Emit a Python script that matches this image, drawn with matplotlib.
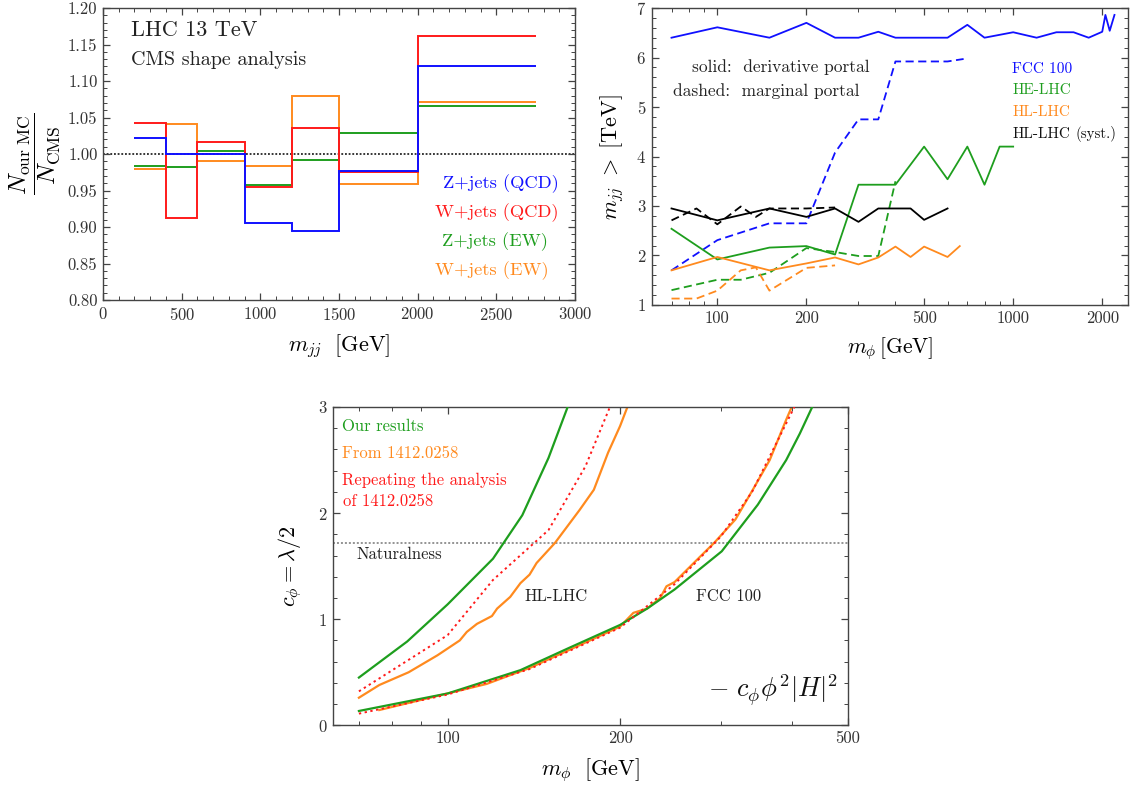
import numpy as np
import matplotlib
matplotlib.use("Agg")
import matplotlib.pyplot as plt
from matplotlib.ticker import (FixedLocator, MultipleLocator, NullFormatter,
                               FormatStrFormatter, LogLocator, FuncFormatter)

plt.rcParams["font.family"] = ["cmr10", "DejaVu Serif"]
plt.rcParams["mathtext.fontset"] = "cm"
plt.rcParams["axes.unicode_minus"] = False
plt.rcParams["axes.formatter.use_mathtext"] = True

# ---------------- top-left: our MC / CMS, per m_jj bin ----------------
mjj_edges = [200, 400, 600, 900, 1200, 1500, 2000, 2750]
ratio_z_qcd = [1.022, 1.000, 1.000, 0.906, 0.894, 0.977, 1.120]
ratio_w_qcd = [1.043, 0.912, 1.016, 0.955, 1.035, 0.976, 1.161]
ratio_z_ew = [0.983, 0.982, 1.004, 0.957, 0.992, 1.029, 1.066]
ratio_w_ew = [0.980, 1.041, 0.990, 0.983, 1.079, 0.959, 1.071]

# ---------------- top-right: optimal m_jj cut vs m_phi ----------------
fcc_sol_m = [70, 100, 150, 200, 250, 300, 350, 400, 450, 500, 600, 700, 800,
             1000, 1200, 1400, 1600, 1800, 2000, 2050, 2120, 2200]
fcc_sol = [6.40, 6.61, 6.40, 6.70, 6.40, 6.40, 6.52, 6.40, 6.40, 6.40, 6.40,
           6.66, 6.40, 6.51, 6.40, 6.51, 6.51, 6.40, 6.52, 6.86, 6.54, 6.86]
fcc_dash_m = [70, 100, 150, 200, 250, 300, 350, 400, 500, 600, 680]
fcc_dash = [1.70, 2.31, 2.65, 2.65, 4.08, 4.75, 4.75, 5.92, 5.92, 5.92, 5.97]

he_sol_m = [70, 100, 150, 200, 250, 300, 400, 500, 600, 700, 800, 900, 1000]
he_sol = [2.54, 1.92, 2.16, 2.19, 2.02, 3.43, 3.43, 4.20, 3.54, 4.20, 3.43,
          4.20, 4.20]
he_dash_m = [70, 100, 120, 150, 200, 250, 300, 350, 400]
he_dash = [1.30, 1.51, 1.51, 1.65, 2.15, 2.07, 1.99, 1.99, 3.50]

hl_sol_m = [70, 100, 150, 200, 250, 300, 350, 400, 450, 500, 600, 660]
hl_sol = [1.70, 1.97, 1.70, 1.84, 1.96, 1.82, 1.96, 2.18, 1.97, 2.18, 1.97, 2.19]
hl_dash_m = [70, 85, 100, 120, 135, 150, 200, 250]
hl_dash = [1.13, 1.13, 1.29, 1.70, 1.76, 1.29, 1.75, 1.80]

syst_sol_m = [70, 100, 150, 200, 250, 300, 350, 400, 450, 500, 600]
syst_sol = [2.95, 2.71, 2.95, 2.78, 2.95, 2.68, 2.95, 2.95, 2.95, 2.72, 2.95]
syst_dash_m = [70, 85, 100, 120, 135, 150, 200, 250]
syst_dash = [2.71, 2.95, 2.63, 2.99, 2.78, 2.95, 2.95, 2.97]

# ---------------- bottom: reach on c_phi ----------------
hl_ours_m = [70, 85, 100, 120, 135, 150, 162]
hl_ours_c = [0.45, 0.79, 1.14, 1.57, 1.98, 2.52, 3.0]
hl_ref_m = [70, 76, 85.5, 96, 105, 108, 112.5, 119.5, 122, 128.6, 134, 139,
            143, 154, 170, 180, 190.6, 200, 206]
hl_ref_c = [0.26, 0.38, 0.50, 0.66, 0.80, 0.88, 0.956, 1.03, 1.10, 1.21, 1.34,
            1.42, 1.53, 1.72, 2.03, 2.22, 2.57, 2.82, 3.0]
hl_rep_m = [70, 100, 120, 150, 174, 192]
hl_rep_c = [0.32, 0.85, 1.37, 1.84, 2.44, 3.0]

fcc_ours_m = [70, 100, 134, 163, 200, 223, 249, 301, 348, 390, 412, 433]
fcc_ours_c = [0.135, 0.30, 0.52, 0.73, 0.946, 1.10, 1.28, 1.64, 2.08, 2.50,
              2.75, 3.0]
fcc_ref_m = [76, 100, 117, 139, 163, 200, 211, 223, 235, 241, 249, 276, 292,
             318, 341, 365, 390, 398]
fcc_ref_c = [0.144, 0.30, 0.39, 0.54, 0.71, 0.93, 1.06, 1.10, 1.20, 1.31, 1.35,
             1.59, 1.72, 1.94, 2.22, 2.50, 2.88, 2.99]
fcc_rep_m = [70, 100, 139, 200, 249, 300, 340, 403]
fcc_rep_c = [0.11, 0.29, 0.53, 0.92, 1.33, 1.78, 2.20, 3.0]

naturalness = 1.72

BLUE = "#1010FF"
RED = "#FF1A1A"
GREEN = "#1E9E1E"
ORANGE = "#FF8A1E"
FRAME = "#444444"
TICKSIZE = 12


def style_frame(ax, labelsize=TICKSIZE):
    for s in ax.spines.values():
        s.set_color(FRAME)
        s.set_linewidth(1.0)
    ax.tick_params(which="both", direction="in", top=True, right=True,
                   color=FRAME, labelcolor="#333333", labelsize=labelsize)
    ax.tick_params(which="major", length=5, width=0.9, pad=4)
    ax.tick_params(which="minor", length=2.8, width=0.7)


fig = plt.figure(figsize=(11.37, 7.89), dpi=100)
W, H = 1137.0, 789.0
ax1 = fig.add_axes([103 / W, 1 - 300 / H, 472 / W, 292 / H])
ax2 = fig.add_axes([651.7 / W, 1 - 305 / H, 476.6 / W, 297 / H])
ax3 = fig.add_axes([332.7 / W, 1 - 725.3 / H, 515.3 / W, 318.3 / H])

# ===== top-left =====
style_frame(ax1)
ax1.axhline(1.0, color="black", lw=1.1, ls=(0, (1.2, 1.2)), zorder=1)
for vals, col in [(ratio_w_ew, ORANGE), (ratio_z_ew, GREEN),
                  (ratio_w_qcd, RED), (ratio_z_qcd, BLUE)]:
    ax1.stairs(vals, mjj_edges, baseline=None, color=col, lw=1.4, zorder=2)
ax1.set_xlim(0, 3000)
ax1.set_ylim(0.80, 1.20)
ax1.xaxis.set_major_locator(MultipleLocator(500))
ax1.xaxis.set_minor_locator(MultipleLocator(100))
ax1.yaxis.set_major_locator(MultipleLocator(0.05))
ax1.yaxis.set_minor_locator(MultipleLocator(0.01))
ax1.yaxis.set_major_formatter(FormatStrFormatter("%.2f"))
ax1.set_xlabel(r"$m_{jj}\ \ [\mathrm{GeV}]$", fontsize=16, labelpad=7)
ax1.set_ylabel(r"$\dfrac{N_{\mathrm{our\ MC}}}{N_{\mathrm{CMS}}}$", fontsize=18,
               labelpad=4)
ax1.text(0.059, 0.925, "LHC 13 TeV", transform=ax1.transAxes, fontsize=16,
         va="center", ha="left", color="#222222")
ax1.text(0.059, 0.822, "CMS shape analysis", transform=ax1.transAxes,
         fontsize=14.5, va="center", ha="left", color="#222222")
for txt, col, xc, yc in [("Z+jets (QCD)", BLUE, 0.842, 0.40),
                         ("W+jets (QCD)", RED, 0.835, 0.30),
                         ("Z+jets (EW)", GREEN, 0.831, 0.20),
                         ("W+jets (EW)", ORANGE, 0.824, 0.10)]:
    ax1.text(xc, yc, txt, transform=ax1.transAxes, color=col, fontsize=13.3,
             ha="center", va="center")

# ===== top-right =====
style_frame(ax2)
dash = (0, (4.5, 2.5))
ax2.plot(fcc_sol_m, fcc_sol, color=BLUE, lw=1.3)
ax2.plot(fcc_dash_m, fcc_dash, color=BLUE, lw=1.3, ls=dash)
ax2.plot(he_sol_m, he_sol, color=GREEN, lw=1.3)
ax2.plot(he_dash_m, he_dash, color=GREEN, lw=1.3, ls=dash)
ax2.plot(hl_sol_m, hl_sol, color=ORANGE, lw=1.3)
ax2.plot(hl_dash_m, hl_dash, color=ORANGE, lw=1.3, ls=dash)
ax2.plot(syst_sol_m, syst_sol, color="black", lw=1.3)
ax2.plot(syst_dash_m, syst_dash, color="black", lw=1.3, ls=dash)
ax2.set_xscale("log")
ax2.set_xlim(60, 2450)
ax2.set_ylim(1, 7)
ax2.xaxis.set_major_locator(FixedLocator([100, 200, 500, 1000, 2000]))
ax2.xaxis.set_major_formatter(FuncFormatter(lambda v, p: "%d" % round(v)))
ax2.xaxis.set_minor_locator(LogLocator(base=10, subs=np.arange(2, 10)))
ax2.xaxis.set_minor_formatter(NullFormatter())
ax2.yaxis.set_major_locator(MultipleLocator(1))
ax2.yaxis.set_minor_locator(MultipleLocator(0.2))
ax2.set_xlabel(r"$m_\phi\,[\mathrm{GeV}]$", fontsize=15.5, labelpad=7)
ax2.set_ylabel(r"$m_{jj}\ >\ [\mathrm{TeV}]$", fontsize=16, labelpad=7)
ax2.text(0.084, 0.802, "solid:  derivative portal", transform=ax2.transAxes,
         fontsize=12.5, ha="left", va="center", color="#222222")
ax2.text(0.045, 0.721, "dashed:  marginal portal", transform=ax2.transAxes,
         fontsize=12.5, ha="left", va="center", color="#222222")
for txt, col, yc in [("FCC 100", BLUE, 0.793), ("HE-LHC", GREEN, 0.722),
                     ("HL-LHC", ORANGE, 0.649)]:
    ax2.text(0.757, yc, txt, transform=ax2.transAxes, color=col, fontsize=11,
             ha="left", va="center")
hl_syst = ax2.text(0.757, 0.575, "HL-LHC", transform=ax2.transAxes,
                   color="#111111", fontsize=11, ha="left", va="center")
ax2.annotate("(syst.)", xy=(1, 0.5), xycoords=hl_syst, xytext=(3.5, 0),
             textcoords="offset points", color="#111111", fontsize=10.8,
             ha="left", va="center")

# ===== bottom =====
style_frame(ax3)
ax3.axhline(naturalness, color="#777777", lw=1.1, ls=(0, (1.3, 1.3)), zorder=1)
ax3.plot(hl_ref_m, hl_ref_c, color=ORANGE, lw=1.6, zorder=2)
ax3.plot(fcc_ref_m, fcc_ref_c, color=ORANGE, lw=1.6, zorder=2)
ax3.plot(hl_ours_m, hl_ours_c, color=GREEN, lw=1.6, zorder=3)
ax3.plot(fcc_ours_m, fcc_ours_c, color=GREEN, lw=1.6, zorder=3)
ax3.plot(hl_rep_m, hl_rep_c, color=RED, lw=1.4, ls=(0, (1.2, 1.8)), zorder=4)
ax3.plot(fcc_rep_m, fcc_rep_c, color=RED, lw=1.4, ls=(0, (1.2, 1.8)), zorder=4)
ax3.set_xscale("log")
ax3.set_xlim(63, 500)
ax3.set_ylim(0, 3)
ax3.xaxis.set_major_locator(FixedLocator([100, 200, 500]))
ax3.xaxis.set_major_formatter(FuncFormatter(lambda v, p: "%d" % round(v)))
ax3.xaxis.set_minor_locator(LogLocator(base=10, subs=np.arange(2, 10)))
ax3.xaxis.set_minor_formatter(NullFormatter())
ax3.yaxis.set_major_locator(MultipleLocator(1))
ax3.yaxis.set_minor_locator(MultipleLocator(0.2))
ax3.set_xlabel(r"$m_\phi\ \ [\mathrm{GeV}]$", fontsize=16, labelpad=7)
ax3.set_ylabel(r"$c_\phi = \lambda/2$", fontsize=16, labelpad=10)
ax3.text(0.0175, 0.938, "Our results", transform=ax3.transAxes, color=GREEN,
         fontsize=12, ha="left", va="center")
ax3.text(0.0175, 0.854, "From 1412.0258", transform=ax3.transAxes,
         color=ORANGE, fontsize=12, ha="left", va="center")
ax3.text(0.0175, 0.771, "Repeating the analysis", transform=ax3.transAxes,
         color=RED, fontsize=12, ha="left", va="center")
ax3.text(0.0194, 0.703, "of 1412.0258", transform=ax3.transAxes, color=RED,
         fontsize=12, ha="left", va="center")
ax3.text(0.0466, 0.536, "Naturalness", transform=ax3.transAxes,
         color="#222222", fontsize=12, ha="left", va="center")
ax3.text(0.373, 0.405, "HL-LHC", transform=ax3.transAxes, color="#222222",
         fontsize=12, ha="left", va="center")
ax3.text(0.705, 0.405, "FCC 100", transform=ax3.transAxes, color="#222222",
         fontsize=12, ha="left", va="center")
ax3.text(0.981, 0.111, r"$-\ c_\phi\phi^2|H|^2$", transform=ax3.transAxes,
         color="#111111", fontsize=19, ha="right", va="center")

fig.savefig("out.png", dpi=100)
